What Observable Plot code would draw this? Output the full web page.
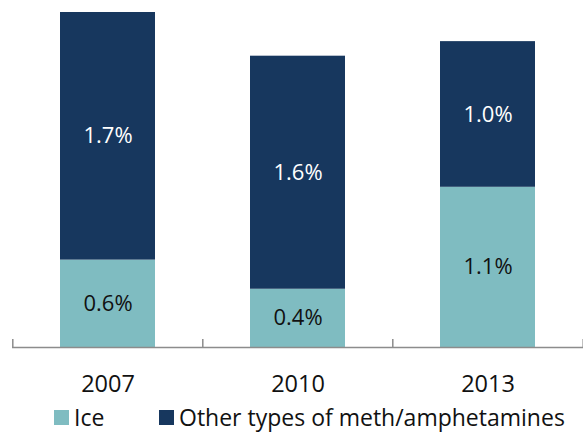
<!DOCTYPE html>
<html><head><meta charset="utf-8">
<script src="https://cdn.jsdelivr.net/npm/d3@7"></script>
<script src="https://cdn.jsdelivr.net/npm/@observablehq/plot@0.6"></script>
<style>
body{margin:0;background:#fff;font-family:"Open Sans",sans-serif;width:583px;height:432px;overflow:hidden;position:relative;}
#legend{position:absolute;left:0;top:404px;width:583px;height:26px;font-size:23px;line-height:26px;color:#111;white-space:nowrap;}
#legend .item{position:absolute;top:0;display:flex;align-items:center;height:26px;}
#legend .sw{width:15px;height:15px;display:inline-block;margin-right:5px;flex:none;}
</style>
</head><body>
<div id="chart"></div>
<div id="legend"></div>
<script>
const years = ["2007", "2010", "2013"];
const seriesNames = ["Ice", "Other types of meth/amphetamines"];
const iceValues = [0.6, 0.4, 1.1];
const otherValues = [1.7, 1.6, 1.0];
const seriesColors = ["#7fbcc1", "#17375e"];
const labelColors = ["#111111", "#ffffff"];
const legendLefts = [54, 159];

const data = years.flatMap((y, i) => [
  {year: y, series: seriesNames[0], value: iceValues[i]},
  {year: y, series: seriesNames[1], value: otherValues[i]}
]);

const chart = Plot.plot({
  width: 583,
  height: 400,
  marginTop: 12,
  marginBottom: 53,
  marginLeft: 12,
  marginRight: 0,
  style: {fontFamily: "Open Sans, sans-serif", background: "#fff"},
  x: {domain: years, paddingInner: 0.5, paddingOuter: 0.25, label: null},
  y: {domain: [0, 2.3], axis: null},
  color: {domain: seriesNames, range: seriesColors},
  marks: [
    Plot.barY(data, {x: "year", y: "value", fill: "series", order: seriesNames}),
    Plot.text(data, Plot.stackY({
      x: "year", y: "value", z: "series", order: seriesNames,
      text: d => d.value.toFixed(1) + "%",
      fill: d => labelColors[seriesNames.indexOf(d.series)],
      fontSize: 22
    })),
    Plot.ruleY([0], {stroke: "#8c8c8c", strokeWidth: 1.5}),
    Plot.ruleX(years, {x: d => d, y1: 0, y2: 0, dx: -95.2, insetTop: -8, stroke: "#8c8c8c", strokeWidth: 1.5}),
    Plot.ruleX(years.slice(-1), {x: d => d, y1: 0, y2: 0, dx: 95.2, insetTop: -8, stroke: "#8c8c8c", strokeWidth: 1.5}),
    Plot.axisX({tickSize: 0, tickPadding: 28, fontSize: 23.5, color: "#111", label: null})
  ]
});
document.getElementById("chart").appendChild(chart);

const legend = document.getElementById("legend");
seriesNames.forEach((name, i) => {
  const item = document.createElement("span");
  item.className = "item";
  item.style.left = legendLefts[i] + "px";
  const sw = document.createElement("span");
  sw.className = "sw";
  sw.style.background = seriesColors[i];
  item.appendChild(sw);
  item.appendChild(document.createTextNode(name));
  legend.appendChild(item);
});
</script>
</body></html>
